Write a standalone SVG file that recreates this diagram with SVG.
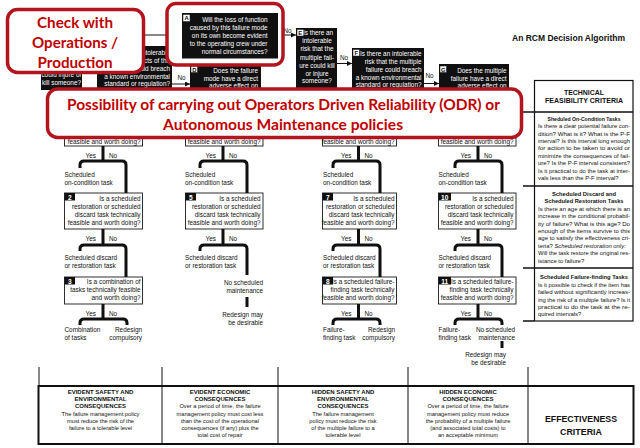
<svg xmlns="http://www.w3.org/2000/svg" width="640" height="448" viewBox="0 0 640 448">
<style>
text{font-family:"Liberation Sans",Arial,Helvetica,sans-serif}
.t{font-size:6.4px;fill:#111}
.w{font-size:6.4px;fill:#fff}
.e{text-anchor:end}
.m{text-anchor:middle}
.b{font-weight:bold}
.blk{fill:#101010}
.wb{fill:#fff;stroke:#1a1a1a;stroke-width:0.9}
.lab{fill:#fff;stroke:#101010;stroke-width:0.5}
.lt{font-size:5.8px;font-weight:bold;fill:#101010;text-anchor:middle}
.nb{fill:#101010}
.nt{font-size:6.6px;font-weight:bold;fill:#fff;text-anchor:middle}
.br{fill:none;stroke:#101010;stroke-width:3}
.ln{fill:none;stroke:#101010;stroke-width:1}
.red{fill:#fff;stroke:#B3141D;stroke-width:3.5}
.rt{font-family:Lato,"Open Sans","Liberation Sans",sans-serif;font-weight:bold;fill:#C00000;text-anchor:middle}
.cr{font-size:5.9px;fill:#111}
.ch{font-size:6.1px;font-weight:bold;fill:#111;text-anchor:middle}
.tb{font-size:5.7px;fill:#111;text-anchor:middle}
.th{font-size:6px;font-weight:bold;fill:#111;text-anchor:middle}
</style>
<defs>
<marker id="ah" viewBox="0 0 6 6" refX="6" refY="3" markerWidth="5" markerHeight="5" orient="auto" markerUnits="userSpaceOnUse"><path d="M0,0 L6,3 L0,6 Z" fill="#101010"/></marker>
</defs>
<rect width="640" height="448" fill="#fff"/>

<text x="512" y="40.5" font-size="8.8" font-weight="bold" fill="#111" textLength="113" lengthAdjust="spacingAndGlyphs">An RCM Decision Algorithm</text>

<g id="connectors">
<path class="ln" d="M182,35 H62 V40"/>
<path class="ln" d="M278,35 H296" marker-end="url(#ah)"/>
<path class="ln" d="M337,63.5 H352" marker-end="url(#ah)"/>
<path class="ln" d="M424,83.5 H439" marker-end="url(#ah)"/>
<path class="ln" d="M172,84 H190" marker-end="url(#ah)"/>
<text class="t m" x="287.5" y="33">No</text>
<text class="t m" x="344" y="60">No</text>
<text class="t m" x="429.5" y="77.5">No</text>
<text class="t m" x="181.5" y="80">No</text>

<path class="br" d="M103,146 V161 M103,229 V245 M103,304 V319"/>
<path class="br" d="M80,168 V165 Q80,161 84,161 H122 Q126,161 126,165 V193"/>
<path class="br" d="M80,251 V249 Q80,245 84,245 H122 Q126,245 126,249 V277"/>
<path class="br" d="M80,325 V323 Q80,319 84,319 H123 Q127,319 127,323 V325"/>

<path class="br" d="M223,146 V161 M223,229 V245"/>
<path class="br" d="M200,168 V165 Q200,161 204,161 H243 Q247,161 247,165 V193"/>
<path class="br" d="M200,251 V249 Q200,245 204,245 H243 Q247,245 247,249 V275"/>
<path class="br" d="M247,297 V307"/>

<path class="br" d="M358.5,146 V161 M358.5,229 V245 M358.5,304 V319"/>
<path class="br" d="M333,168 V165 Q333,161 337,161 H376 Q380,161 380,165 V193"/>
<path class="br" d="M333,251 V249 Q333,245 337,245 H376 Q380,245 380,249 V277"/>
<path class="br" d="M333,325 V323 Q333,319 337,319 H376 Q380,319 380,323 V325"/>

<path class="br" d="M478,146 V161 M478,229 V245 M478,304 V319"/>
<path class="br" d="M455,168 V165 Q455,161 459,161 H498 Q502,161 502,165 V193"/>
<path class="br" d="M455,251 V249 Q455,245 459,245 H498 Q502,245 502,249 V277"/>
<path class="br" d="M455,325 V323 Q455,319 459,319 H498 Q502,319 502,323 V325"/>
<path class="br" d="M502,341 V348"/>

<text class="t e" x="96" y="158">Yes</text><text class="t" x="109" y="158">No</text>
<text class="t e" x="96" y="241">Yes</text><text class="t" x="109" y="241">No</text>
<text class="t e" x="96" y="315.5">Yes</text><text class="t" x="109" y="315.5">No</text>
<text class="t e" x="216" y="158">Yes</text><text class="t" x="229" y="158">No</text>
<text class="t e" x="216" y="241">Yes</text><text class="t" x="229" y="241">No</text>
<text class="t e" x="351.5" y="158">Yes</text><text class="t" x="364.5" y="158">No</text>
<text class="t e" x="351.5" y="241">Yes</text><text class="t" x="364.5" y="241">No</text>
<text class="t e" x="351.5" y="315.5">Yes</text><text class="t" x="364.5" y="315.5">No</text>
<text class="t e" x="471" y="158">Yes</text><text class="t" x="484" y="158">No</text>
<text class="t e" x="471" y="241">Yes</text><text class="t" x="484" y="241">No</text>
<text class="t e" x="471" y="315.5">Yes</text><text class="t" x="484" y="315.5">No</text>

<path class="ln" d="M39,367 V386 M162,367 V386 M278,367 V386 M408,367 V386 M528,367 V386"/>
<path d="M523,112 H534 M523,186 H534 M523,268 H534 M523,321 H534" stroke="#111" stroke-width="1.3"/>
</g>

<g id="nodeB"><rect class="blk" x="41" y="40" width="41" height="50"/>
<text class="w m" x="61.5" y="77.3">could injure or</text>
<text class="w m" x="61.5" y="84.7">kill someone?</text></g>

<g id="nodeC"><rect class="blk" x="97" y="46" width="75" height="44"/>
<text class="w e" x="170" y="54.5">ntolerable</text>
<text class="w e" x="170" y="62.5">cts of the</text>
<text class="w e" x="170" y="70.5">uld breach</text>
<text class="w e" x="170" y="79">a known environmental</text>
<text class="w e" x="170" y="86.3">standard or regulation?</text></g>

<g id="nodeD"><rect class="blk" x="190" y="64" width="71" height="28"/>
<rect class="lab" x="191" y="66" width="6.5" height="6.5"/><text class="lt" x="194.25" y="71.5">D</text>
<text class="w e" x="258" y="73">Does the failure</text>
<text class="w e" x="258" y="80.5">mode have a direct</text>
<text class="w e" x="258" y="88">adverse effect on</text></g>

<g id="nodeA">
<rect class="red" x="167" y="3.5" width="116" height="61.5" rx="9"/>
<rect class="blk" x="182" y="13" width="96" height="45.5"/>
<rect class="lab" x="183" y="14.5" width="7" height="7"/><text class="lt" x="186.5" y="20.4">A</text>
<text class="w e" x="267.5" y="22.2">Will the loss of function</text>
<text class="w e" x="267.5" y="30">caused by this failure mode</text>
<text class="w e" x="267.5" y="38">on its own become evident</text>
<text class="w e" x="267.5" y="45.7">to the operating crew under</text>
<text class="w e" x="267.5" y="53.7">normal circumstances?</text></g>

<g id="nodeE"><rect class="blk" x="296" y="28" width="41" height="64"/>
<rect class="lab" x="297" y="29.5" width="6.5" height="6.5"/><text class="lt" x="300.25" y="35">E</text>
<text class="w m" x="318" y="35">Is there an</text>
<text class="w m" x="317" y="43.2">intolerable</text>
<text class="w m" x="317" y="51.3">risk that the</text>
<text class="w m" x="317" y="59.5">multiple fail-</text>
<text class="w m" x="317" y="67.7">ure could kill</text>
<text class="w m" x="317" y="75.6">or injure</text>
<text class="w m" x="317" y="83.4">someone?</text></g>

<g id="nodeF"><rect class="blk" x="352" y="48" width="72" height="44"/>
<rect class="lab" x="353" y="49.5" width="6.5" height="6.5"/><text class="lt" x="356.25" y="55">F</text>
<text class="w e" x="421.5" y="55.5">Is there an intolerable</text>
<text class="w e" x="421.5" y="63.7">risk that the multiple</text>
<text class="w e" x="421.5" y="71.8">failure could breach</text>
<text class="w e" x="421.5" y="79.8">a known environmental</text>
<text class="w e" x="421.5" y="87.3">standard or regulation?</text></g>

<g id="nodeG"><rect class="blk" x="439" y="64" width="70" height="28"/>
<rect class="lab" x="440" y="66" width="6.5" height="6.5"/><text class="lt" x="443.25" y="71.5">G</text>
<text class="w e" x="506.5" y="73">Does the multiple</text>
<text class="w e" x="506.5" y="80.5">failure have a direct</text>
<text class="w e" x="506.5" y="88">adverse effect on</text></g>

<g id="node1"><rect class="wb" x="64.5" y="100" width="78" height="46"/>
<text class="t e" x="140.5" y="143.5">feasible and worth doing?</text></g>
<g id="out1a"><text class="t" x="64.5" y="176.5">Scheduled</text><text class="t" x="64.5" y="185">on-condition task</text></g>
<g id="node2"><rect class="wb" x="64.5" y="193" width="78" height="36"/>
<rect class="nb" x="64.5" y="193" width="10.5" height="7.5"/><text class="nt" x="69.75" y="199.6">2</text>
<text class="t e" x="140.5" y="201">Is a scheduled</text>
<text class="t e" x="140.5" y="209">restoration or scheduled</text>
<text class="t e" x="140.5" y="217">discard task technically</text>
<text class="t e" x="140.5" y="225">feasible and worth doing?</text></g>
<g id="out1b"><text class="t" x="64.5" y="260">Scheduled discard</text><text class="t" x="64.5" y="268">or restoration task</text></g>
<g id="node3"><rect class="wb" x="64.5" y="277" width="78" height="27"/>
<rect class="nb" x="64.5" y="277" width="10.5" height="7.5"/><text class="nt" x="69.75" y="283.6">3</text>
<text class="t e" x="140.5" y="284">Is a combination of</text>
<text class="t e" x="140.5" y="292">tasks technically feasible</text>
<text class="t e" x="140.5" y="300">and worth doing?</text></g>
<g id="out1c"><text class="t" x="64.5" y="332">Combination</text><text class="t" x="64.5" y="340">of tasks</text>
<text class="t e" x="142" y="332">Redesign</text><text class="t e" x="142" y="340">compulsory</text></g>

<g id="node4"><rect class="wb" x="185.5" y="100" width="77.5" height="46"/>
<text class="t e" x="260.5" y="143.5">feasible and worth doing?</text></g>
<g id="out2a"><text class="t" x="185" y="176.5">Scheduled</text><text class="t" x="185" y="185">on-condition task</text></g>
<g id="node5"><rect class="wb" x="185.5" y="193" width="77.5" height="36"/>
<rect class="nb" x="185.5" y="193" width="10.5" height="7.5"/><text class="nt" x="190.75" y="199.6">5</text>
<text class="t e" x="260.5" y="201">Is a scheduled</text>
<text class="t e" x="260.5" y="209">restoration or scheduled</text>
<text class="t e" x="260.5" y="217">discard task technically</text>
<text class="t e" x="260.5" y="225">feasible and worth doing?</text></g>
<g id="out2b"><text class="t" x="185" y="260">Scheduled discard</text><text class="t" x="185" y="268">or restoration task</text></g>
<g id="out2c"><text class="t e" x="263" y="284.5">No scheduled</text><text class="t e" x="263" y="292.5">maintenance</text>
<text class="t e" x="263" y="317">Redesign may</text><text class="t e" x="263" y="325">be desirable</text></g>

<g id="node6"><rect class="wb" x="322.5" y="100" width="74" height="46"/>
<text class="t e" x="394.5" y="143.5">feasible and worth doing?</text></g>
<g id="out3a"><text class="t" x="323" y="176.5">Scheduled</text><text class="t" x="323" y="185">on-condition task</text></g>
<g id="node7"><rect class="wb" x="322.5" y="193" width="74" height="36"/>
<rect class="nb" x="322.5" y="193" width="10.5" height="7.5"/><text class="nt" x="327.75" y="199.6">7</text>
<text class="t e" x="394.5" y="201">Is a scheduled</text>
<text class="t e" x="394.5" y="209">restoration or scheduled</text>
<text class="t e" x="394.5" y="217">discard task technically</text>
<text class="t e" x="394.5" y="225">feasible and worth doing?</text></g>
<g id="out3b"><text class="t" x="323" y="260">Scheduled discard</text><text class="t" x="323" y="268">or restoration task</text></g>
<g id="node8"><rect class="wb" x="322.5" y="277" width="74" height="27"/>
<rect class="nb" x="322.5" y="277" width="10.5" height="7.5"/><text class="nt" x="327.75" y="283.6">8</text>
<text class="t e" x="394.5" y="284">Is a scheduled failure-</text>
<text class="t e" x="394.5" y="292">finding task technically</text>
<text class="t e" x="394.5" y="300">feasible and worth doing?</text></g>
<g id="out3c"><text class="t" x="323" y="332">Failure-</text><text class="t" x="323" y="340">finding task</text>
<text class="t e" x="395" y="332">Redesign</text><text class="t e" x="395" y="340">compulsory</text></g>

<g id="node9"><rect class="wb" x="438.5" y="100" width="77.5" height="46"/>
<text class="t e" x="513.5" y="143.5">feasible and worth doing?</text></g>
<g id="out4a"><text class="t" x="438.5" y="176.5">Scheduled</text><text class="t" x="438.5" y="185">on-condition task</text></g>
<g id="node10"><rect class="wb" x="438.5" y="193" width="77.5" height="36"/>
<rect class="nb" x="438.5" y="193" width="12.5" height="7.5"/><text class="nt" x="444.75" y="199.6">10</text>
<text class="t e" x="513.5" y="201">Is a scheduled</text>
<text class="t e" x="513.5" y="209">restoration or scheduled</text>
<text class="t e" x="513.5" y="217">discard task technically</text>
<text class="t e" x="513.5" y="225">feasible and worth doing?</text></g>
<g id="out4b"><text class="t" x="438.5" y="260">Scheduled discard</text><text class="t" x="438.5" y="268">or restoration task</text></g>
<g id="node11"><rect class="wb" x="438.5" y="277" width="77.5" height="27"/>
<rect class="nb" x="438.5" y="277" width="12.5" height="7.5"/><text class="nt" x="444.75" y="283.6">11</text>
<text class="t e" x="513.5" y="284">Is a scheduled failure-</text>
<text class="t e" x="513.5" y="292">finding task technically</text>
<text class="t e" x="513.5" y="300">feasible and worth doing?</text></g>
<g id="out4c"><text class="t" x="438.5" y="332">Failure-</text><text class="t" x="438.5" y="340">finding task</text>
<text class="t e" x="515" y="332">No scheduled</text><text class="t e" x="515" y="340">maintenance</text>
<text class="t e" x="506" y="357">Redesign may</text><text class="t e" x="506" y="365">be desirable</text></g>

<g id="criteria">
<rect x="534.5" y="80.5" width="98.5" height="240.5" fill="none" stroke="#111" stroke-width="1.2"/>
<path d="M534,112 H633 M534,186 H633 M534,268 H633" stroke="#111" stroke-width="1.3"/>
<text class="b m" x="584" y="95.2" font-size="7.9" fill="#111" textLength="40" lengthAdjust="spacingAndGlyphs">TECHNICAL</text>
<text class="b m" x="584" y="103.4" font-size="7.9" fill="#111" textLength="78" lengthAdjust="spacingAndGlyphs">FEASIBILITY CRITERIA</text>
<text class="ch" x="584" y="121" textLength="73" lengthAdjust="spacingAndGlyphs">Sheduled On-Condition Tasks</text>
<text class="cr" x="538" y="128.2" textLength="92" lengthAdjust="spacingAndGlyphs">Is there a clear potential failure con-</text>
<text class="cr" x="538" y="135.6" textLength="92" lengthAdjust="spacingAndGlyphs">dition? What is it? What is the P-F</text>
<text class="cr" x="538" y="143" textLength="92" lengthAdjust="spacingAndGlyphs">interval? Is this interval long enough</text>
<text class="cr" x="538" y="150.4" textLength="92" lengthAdjust="spacingAndGlyphs">for action to be taken to avoid or</text>
<text class="cr" x="538" y="157.8" textLength="92" lengthAdjust="spacingAndGlyphs">minimize the consequences of fail-</text>
<text class="cr" x="538" y="165.2" textLength="92" lengthAdjust="spacingAndGlyphs">ure? Is the P-F interval consistent?</text>
<text class="cr" x="538" y="172.6" textLength="92" lengthAdjust="spacingAndGlyphs">Is it practical to do the task at inter-</text>
<text class="cr" x="538" y="180">vals less than the P-F interval?</text>
<text class="ch" x="584" y="195.5" textLength="64" lengthAdjust="spacingAndGlyphs">Scheduled Discard and</text>
<text class="ch" x="584" y="203" textLength="79" lengthAdjust="spacingAndGlyphs">Scheduled Restoration Tasks</text>
<text class="cr" x="538" y="211" textLength="92" lengthAdjust="spacingAndGlyphs">Is there an age at which there is an</text>
<text class="cr" x="538" y="218.3" textLength="92" lengthAdjust="spacingAndGlyphs">increase in the conditional probabil-</text>
<text class="cr" x="538" y="225.6" textLength="92" lengthAdjust="spacingAndGlyphs">ity of failure? What is this age? Do</text>
<text class="cr" x="538" y="233" textLength="92" lengthAdjust="spacingAndGlyphs">enough of the items survive to this</text>
<text class="cr" x="538" y="240.4" textLength="92" lengthAdjust="spacingAndGlyphs">age to satisfy the effectiveness cri-</text>
<text class="cr" x="538" y="247.8">teria? <tspan font-style="italic">Scheduled restoration only:</tspan></text>
<text class="cr" x="538" y="255.3" textLength="92" lengthAdjust="spacingAndGlyphs">Will the task restore the original res-</text>
<text class="cr" x="538" y="262.7">istance to failure?</text>
<text class="ch" x="584" y="279" textLength="88" lengthAdjust="spacingAndGlyphs">Scheduled Failure-finding Tasks</text>
<text class="cr" x="538" y="287" textLength="92" lengthAdjust="spacingAndGlyphs">Is it possible to check if the item has</text>
<text class="cr" x="538" y="294.3" textLength="92" lengthAdjust="spacingAndGlyphs">failed without significantly increas-</text>
<text class="cr" x="538" y="301.6" textLength="92" lengthAdjust="spacingAndGlyphs">ing the risk of a multiple failure? Is it</text>
<text class="cr" x="538" y="309" textLength="92" lengthAdjust="spacingAndGlyphs">practical to do the task at the re-</text>
<text class="cr" x="538" y="316.3">quired intervals?</text>
</g>

<g id="effectiveness">
<rect x="38.5" y="386" width="595" height="58" fill="#fff" stroke="#111" stroke-width="2"/>
<path d="M162,386 V444 M278,386 V444 M408,386 V444 M528,386 V444" stroke="#111" stroke-width="1"/>
<text class="th" x="100.5" y="394">EVIDENT SAFETY AND</text>
<text class="th" x="100.5" y="401.2">ENVIRONMENTAL</text>
<text class="th" x="100.5" y="408.4">CONSEQUENCES</text>
<text class="tb" x="100.5" y="415.6">The failure management policy</text>
<text class="tb" x="100.5" y="422.8">must reduce the risk of the</text>
<text class="tb" x="100.5" y="430">failure to a tolerable level</text>
<text class="th" x="220" y="394">EVIDENT ECONOMIC</text>
<text class="th" x="220" y="401.2">CONSEQUENCES</text>
<text class="tb" x="220" y="408.4">Over a period of time, the failure</text>
<text class="tb" x="220" y="415.6">management policy must cost less</text>
<text class="tb" x="220" y="422.8">than the cost of the operational</text>
<text class="tb" x="220" y="430">consequences (if any) plus the</text>
<text class="tb" x="220" y="437.2">total cost of repair</text>
<text class="th" x="343" y="394">HIDDEN SAFETY AND</text>
<text class="th" x="343" y="401.2">ENVIRONMENTAL</text>
<text class="th" x="343" y="408.4">CONSEQUENCES</text>
<text class="tb" x="343" y="415.6">The failure management</text>
<text class="tb" x="343" y="422.8">policy must reduce the risk</text>
<text class="tb" x="343" y="430">of the multiple failure to a</text>
<text class="tb" x="343" y="437.2">tolerable level</text>
<text class="th" x="468" y="394">HIDDEN ECONOMIC</text>
<text class="th" x="468" y="401.2">CONSEQUENCES</text>
<text class="tb" x="468" y="408.4">Over a period of time, the failure</text>
<text class="tb" x="468" y="415.6">management policy must reduce</text>
<text class="tb" x="468" y="422.8">the probability of a multiple failure</text>
<text class="tb" x="468" y="430">(and associated total costs) to</text>
<text class="tb" x="468" y="437.2">an acceptable minimum</text>
<text class="b m" x="581" y="422" font-size="8.5" fill="#111" textLength="72" lengthAdjust="spacingAndGlyphs">EFFECTIVENESS</text>
<text class="b m" x="581" y="434.5" font-size="8.5" fill="#111" textLength="42" lengthAdjust="spacingAndGlyphs">CRITERIA</text>
</g>

<g id="check-operations">
<rect class="red" x="7.5" y="9.5" width="136" height="63" rx="10"/>
<text class="rt" x="75" y="27.5" font-size="15.5" textLength="76" lengthAdjust="spacingAndGlyphs">Check with</text>
<text class="rt" x="75" y="47.5" font-size="15.5" textLength="86" lengthAdjust="spacingAndGlyphs">Operations /</text>
<text class="rt" x="75" y="67.5" font-size="15.5" textLength="75" lengthAdjust="spacingAndGlyphs">Production</text>
</g>

<g id="odr-banner">
<rect class="red" x="47.5" y="89" width="474" height="48.5" rx="10"/>
<text class="rt" x="283.5" y="109.5" font-size="15" textLength="433" lengthAdjust="spacingAndGlyphs">Possibility of carrying out Operators Driven Reliability (ODR) or</text>
<text class="rt" x="283" y="129.5" font-size="15" textLength="240" lengthAdjust="spacingAndGlyphs">Autonomous Maintenance policies</text>
</g>
</svg>
